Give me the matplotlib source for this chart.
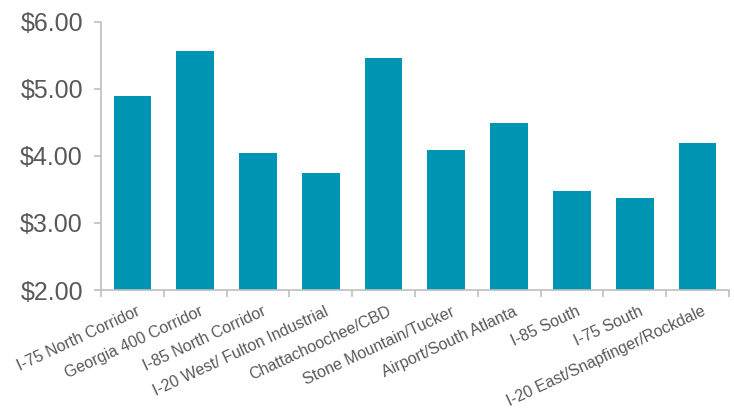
import matplotlib.pyplot as plt
import matplotlib.transforms as mtransforms
import numpy as np
from matplotlib.ticker import FixedLocator

plt.rcParams['font.family'] = ['Liberation Sans', 'DejaVu Sans']

submarkets = ["I-75 North Corridor", "Georgia 400 Corridor", "I-85 North Corridor",
              "I-20 West/ Fulton Industrial", "Chattachoochee/CBD", "Stone Mountain/Tucker",
              "Airport/South Atlanta", "I-85 South", "I-75 South",
              "I-20 East/Snapfinger/Rockdale"]
rents = [4.90, 5.57, 4.05, 3.75, 5.46, 4.09, 4.49, 3.48, 3.37, 4.19]

text_color = "#595959"
axis_color = "#BFBFBF"

fig = plt.figure(figsize=(7.34, 4.12), dpi=100)
ax = fig.add_axes([0.1376, 0.296, 0.8554, 0.651])

x = np.arange(len(submarkets))
ax.bar(x, [r - 2 for r in rents], bottom=2, width=0.6, color="#0095B3")

ax.set_xlim(-0.5, len(submarkets) - 0.5)
ax.set_ylim(2, 6)
ax.set_yticks([2, 3, 4, 5, 6])
ax.set_yticklabels([f"${v:.2f}" for v in [2, 3, 4, 5, 6]], fontsize=18, color=text_color)

ax.set_xticks(x)
ax.set_xticklabels(submarkets, rotation=25, ha='right', rotation_mode='anchor',
                   fontsize=11.5, color=text_color)
ax.tick_params(axis='x', length=0, pad=10)
# nudge labels a little to the right, like the original
shift = mtransforms.ScaledTranslation(4 / 100, 0, fig.dpi_scale_trans)
for lbl in ax.get_xticklabels():
    lbl.set_transform(lbl.get_transform() + shift)
ax.xaxis.set_minor_locator(FixedLocator(np.arange(-0.5, len(submarkets), 1.0)))
ax.tick_params(axis='x', which='minor', length=5, color=axis_color, width=1.2)
ax.tick_params(axis='y', length=5, color=axis_color, width=1.2, pad=8)

for side in ['top', 'right']:
    ax.spines[side].set_visible(False)
for side in ['left', 'bottom']:
    ax.spines[side].set_color(axis_color)
    ax.spines[side].set_linewidth(1.2)

fig.savefig("out.png", dpi=100)
